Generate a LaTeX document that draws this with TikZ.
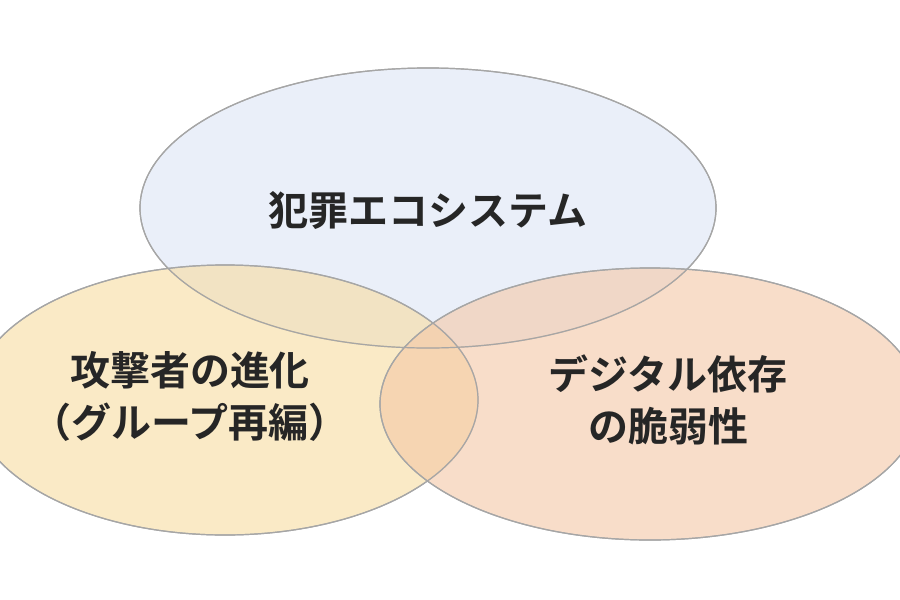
\documentclass[tikz,border=0pt]{standalone}
\usepackage{fontspec}
\newfontfamily\cjk{Noto Sans CJK JP Bold}
\begin{document}
\begin{tikzpicture}[x=1pt,y=-1pt,
  ell/.style={draw=gray!70,line width=1.2pt,fill opacity=0.6},
  lab/.style={font=\cjk\fontsize{40}{52}\selectfont,align=center,text=black!85}]
\useasboundingbox (0,0) rectangle (900,600);
\definecolor{cblue}{HTML}{DCE5F5}
\definecolor{cyel}{HTML}{F8DCA0}
\definecolor{cpeach}{HTML}{F4C7A6}
\fill[white] (0,0) rectangle (900,600);
\path[ell,fill=cblue] (428,208) ellipse [x radius=288, y radius=140];
\path[ell,fill=cyel] (225,400) ellipse [x radius=253, y radius=135];
\path[ell,fill=cpeach] (650,404) ellipse [x radius=270, y radius=136];
\draw[gray!70,line width=1.2pt] (428,208) ellipse [x radius=288, y radius=140];
\draw[gray!70,line width=1.2pt] (225,400) ellipse [x radius=253, y radius=135];
\draw[gray!70,line width=1.2pt] (650,404) ellipse [x radius=270, y radius=136];
\node[lab] (a) at (428,210) {犯罪エコシステム};
\node[lab] (b) at (190,396) {攻撃者の進化\\（グループ再編）};
\node[lab] (c) at (668,400) {デジタル依存\\の脆弱性};
\end{tikzpicture}
\end{document}
